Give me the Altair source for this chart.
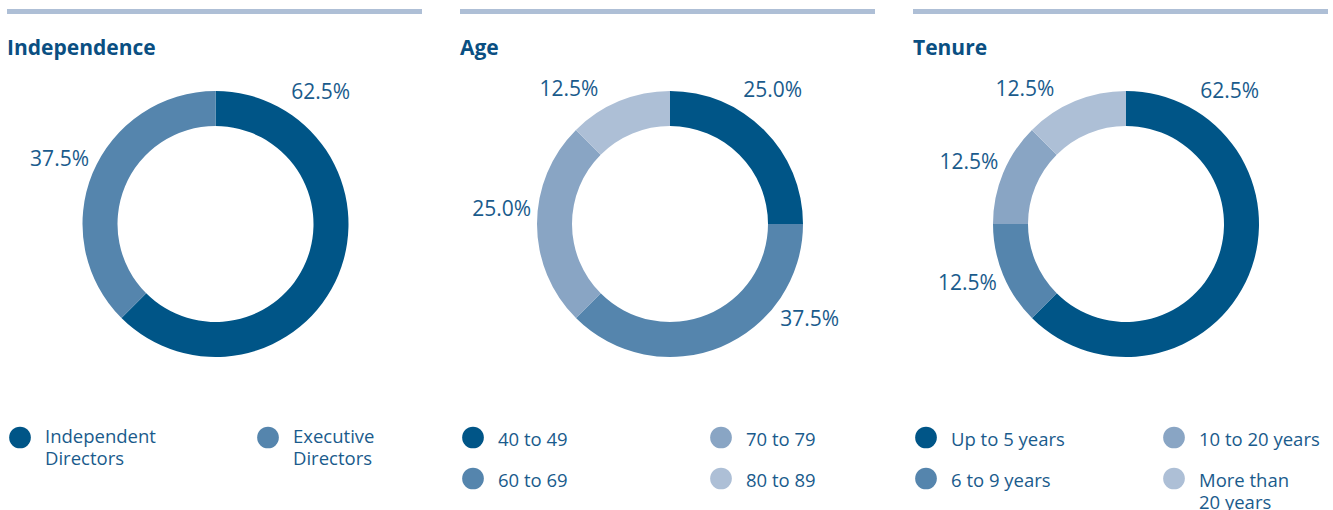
import math
import altair as alt
import pandas as pd

FONT = "Open Sans"
TEXT = "#1A5B8C"
TITLE = "#0A4F82"
BAR = "#AEBFD6"
colors = ["#005587", "#5585AD", "#89A5C4", "#ADBFD6"]

titles = ["Independence", "Age", "Tenure"]

indep_cats = ["Independent\nDirectors", "Executive\nDirectors"]
indep_vals = [62.5, 37.5]
indep_label_pos = [10.7, 81.3]   # where each % label sits round the ring (percent of circle)

age_cats = ["40 to 49", "60 to 69", "70 to 79", "80 to 89"]
age_vals = [25.0, 37.5, 25.0, 12.5]
age_label_pos = [10.4, 34.5, 76.5, 89.8]

tenure_cats = ["Up to 5 years", "6 to 9 years", "10 to 20 years", "More than\n20 years"]
tenure_vals = [62.5, 12.5, 12.5, 12.5]
tenure_label_pos = [10.5, 69.4, 81.0, 89.8]

W, H = 415, 510
CY = 224


def panel(title, cats, vals, label_pos, cx, legend_dy):
    n = len(cats)
    rows = math.ceil(n / 2)
    df = pd.DataFrame({
        "cat": cats,
        "value": vals,
        "idx": list(range(n)),
        "pos": label_pos,
        "label": [f"{v:.1f}%" for v in vals],
        "col": [i // rows for i in range(n)],
        "row": [i % rows for i in range(n)],
    })
    color = alt.Color("cat:N", scale=alt.Scale(domain=cats, range=colors[:n]), legend=None)
    theta_scale = alt.Scale(domain=[0, 100])
    base = alt.Chart(df)

    arc = base.mark_arc(innerRadius=98, outerRadius=133, x=cx, y=CY).encode(
        theta=alt.Theta("value:Q", stack=True, scale=theta_scale),
        color=color,
        order=alt.Order("idx:Q", sort="ascending"),
    )
    labels = base.mark_text(
        x=cx, y=CY, radius=169, font=FONT, fontSize=21, color=TEXT,
        align="center", baseline="middle", dy=1.5,
    ).encode(theta=alt.Theta("pos:Q", scale=theta_scale), text="label:N")

    tdf = pd.DataFrame({"t": [title]})
    bar = alt.Chart(tdf).mark_rect(color=BAR).encode(
        x=alt.value(0), x2=alt.value(W), y=alt.value(9), y2=alt.value(14)
    )
    ttl = alt.Chart(tdf).mark_text(
        align="left", baseline="alphabetic", x=0, y=55, fontSize=21,
        fontWeight="bold", font=FONT, color=TITLE,
    ).encode(text="t:N")

    xs = alt.X("col:Q", scale=alt.Scale(domain=[0, 1], range=[13, 261], nice=False), axis=None)
    ys = alt.Y("row:Q", scale=alt.Scale(domain=[0, 1], range=[437.5, 478.5], nice=False), axis=None)
    dots = base.mark_circle(size=470, opacity=1).encode(x=xs, y=ys, color=color)
    ltxt = base.mark_text(
        align="left", baseline="alphabetic", dx=25, dy=legend_dy, lineBreak="\n",
        lineHeight=22, fontSize=18.5, font=FONT, color=TEXT,
    ).encode(x=xs, y=ys, text="cat:N")

    return alt.layer(bar, ttl, arc, labels, dots, ltxt).properties(width=W, height=H)


p1 = panel(titles[0], indep_cats, indep_vals, indep_label_pos, 208.5, 5)
p2 = panel(titles[1], age_cats, age_vals, age_label_pos, 210, 8)
p3 = panel(titles[2], tenure_cats, tenure_vals, tenure_label_pos, 213, 8)

chart = (
    alt.hconcat(p1, p2, p3, spacing=38)
    .resolve_scale(color="independent", theta="independent", x="independent", y="independent")
    .properties(padding={"left": 7, "top": 0, "right": 0, "bottom": 0}, background="white")
    .configure_view(stroke=None)
)

chart.save("out.html", embed_options={"renderer": "svg", "actions": False})
